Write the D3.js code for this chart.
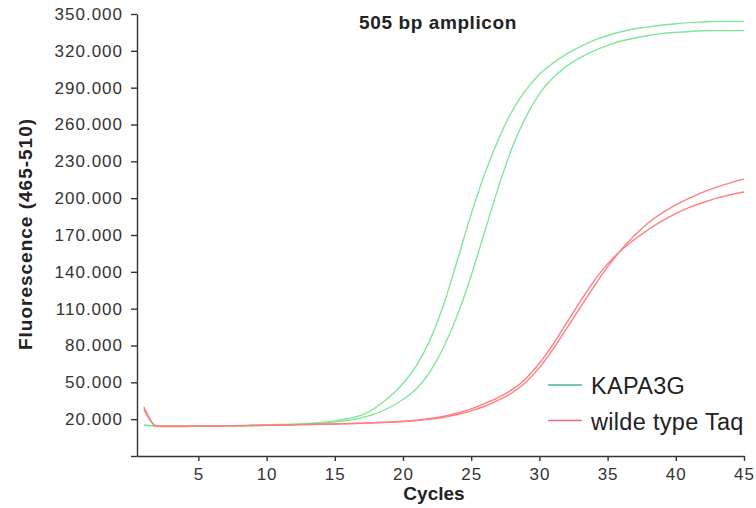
<!DOCTYPE html>
<html>
<head>
<meta charset="utf-8">
<script src="https://cdn.jsdelivr.net/npm/d3@7"></script>
<style>
body{margin:0;background:#fff;}
svg{display:block;font-family:"Liberation Sans",Arial,sans-serif;}
</style>
</head>
<body>
<svg id="myGraph" width="756" height="508"></svg>
<script>
// fluorescence in thousands, cycles 1..45
var cycles = d3.range(1, 46);
var kapaA = [15,14.5,14.5,14.5,14.5,14.5,14.6,14.8,15,15.3,15.6,16,16.6,17.4,18.6,20.5,23.5,29.5,38,49,64,85,114,150,187,220,248,271,288,301,310,317.5,323.5,328.5,332.5,335.5,338,339.5,341,342,343,343.5,344,344,344];
var kapaB = [15,14.5,14.5,14.5,14.5,14.5,14.5,14.6,14.8,15,15.3,15.6,16,16.7,17.6,19,21.2,24.5,29.5,36,45,59,79,105,137,173,209,241,266,285,298,307.5,314.5,320,324.5,328,330.5,332.5,334,335,335.8,336.3,336.5,336.5,336.5];
var taqA = [30,14,14,14,14.2,14.3,14.5,14.6,14.8,15,15.2,15.4,15.6,15.8,16,16.3,16.6,17,17.4,18,18.8,20,21.6,23.8,26.8,30.5,35.5,41.5,50,62,77,94,111,128,144,158,170,180,188,194.5,200,205,209,212.5,215.5];
var taqB = [28,14.2,14.2,14.2,14.3,14.4,14.5,14.7,14.9,15.1,15.3,15.5,15.7,16,16.2,16.5,16.8,17.2,17.7,18.3,19.2,20.5,22.4,25,28.4,32.8,37.8,44,53,65.5,81,98.5,116,132.5,146.5,157.5,166.5,174.5,181.5,187.5,192.5,196.5,200,202.8,205];
var xTicks = [5,10,15,20,25,30,35,40,45];
var yTicks = d3.range(-10, 351, 30);
var legendNames = ["KAPA3G", "wilde type Taq"];

window.addEventListener("load", function(){
var svg = d3.select("#myGraph");
var x = d3.scaleLinear().domain([0.5, 45]).range([137, 744]);
var y = d3.scaleLinear().domain([-10, 350]).range([456, 14]);
var de = d3.formatLocale({decimal:",", thousands:".", grouping:[3], currency:["","€"]}).format(",");

svg.append("g")
	.attr("transform", "translate(0,456)")
	.call(d3.axisBottom(x).tickValues(xTicks).tickSize(5).tickPadding(7).tickSizeOuter(0));
svg.append("g")
	.attr("transform", "translate(137,0)")
	.call(d3.axisLeft(y).tickValues(yTicks).tickSize(6).tickPadding(8).tickSizeOuter(0)
		.tickFormat(function(d){ return d < 0 ? "" : de(d*1000); }));

svg.selectAll(".domain, .tick line").attr("stroke", "#333").attr("stroke-width", 1.4);
svg.selectAll(".tick text")
	.attr("fill", "#333")
	.style("font-size", "17px")
	.style("letter-spacing", "1px")
	.style("font-family", "'Liberation Sans', Arial, sans-serif");

var line = d3.line()
	.x(function(d, i){ return x(cycles[i]); })
	.y(function(d){ return y(d); })
	.curve(d3.curveMonotoneX);

var series = [
	{v: kapaA, c: "#7fe898"},
	{v: kapaB, c: "#7fe898"},
	{v: taqA, c: "#ff7f7f"},
	{v: taqB, c: "#ff7f7f"}
];
svg.selectAll("path.curve")
	.data(series)
	.enter()
	.append("path")
	.attr("class", "curve")
	.attr("d", function(d){ return line(d.v); })
	.attr("fill", "none")
	.attr("stroke", function(d){ return d.c; })
	.attr("stroke-width", 1.4);

// legend
var lg = svg.selectAll("g.lg")
	.data(legendNames)
	.enter()
	.append("g")
	.attr("transform", function(d, i){ return "translate(548," + (385 + i*35.5) + ")"; });
lg.append("line")
	.attr("x1", 0).attr("x2", 34)
	.attr("stroke", function(d, i){ return i == 0 ? "#43bd8a" : "#e8697a"; })
	.attr("stroke-width", 1.6);
lg.append("text")
	.attr("x", 43)
	.attr("y", 9)
	.attr("fill", "#222")
	.style("font-size", "23.5px")
	.style("letter-spacing", "0.3px")
	.text(function(d){ return d; });

svg.append("text")
	.attr("x", 438).attr("y", 29)
	.attr("text-anchor", "middle")
	.attr("fill", "#222")
	.style("font-size", "19px").style("font-weight", "bold")
	.style("letter-spacing", "0.6px")
	.text("505 bp amplicon");
svg.append("text")
	.attr("x", 434).attr("y", 500)
	.attr("text-anchor", "middle")
	.attr("fill", "#222")
	.style("font-size", "19px").style("font-weight", "bold")
	.text("Cycles");
svg.append("text")
	.attr("transform", "translate(32,234) rotate(-90)")
	.attr("text-anchor", "middle")
	.attr("fill", "#222")
	.style("font-size", "19px").style("font-weight", "bold")
	.style("letter-spacing", "1px")
	.text("Fluorescence (465-510)");
});
</script>
</body>
</html>
